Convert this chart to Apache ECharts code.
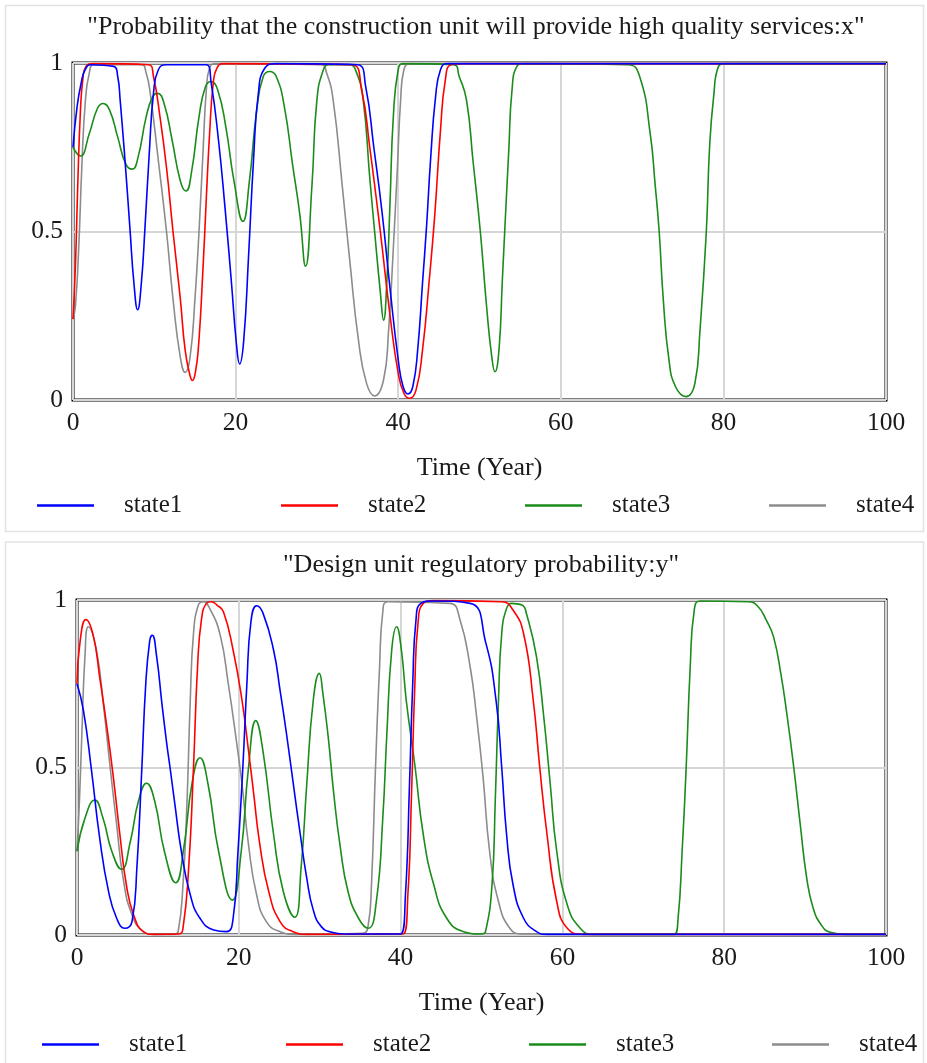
<!DOCTYPE html>
<html>
<head>
<meta charset="utf-8">
<script src="https://cdn.jsdelivr.net/npm/echarts@6/dist/echarts.min.js"></script>
<style>
html,body{margin:0;padding:0;background:#fff;}
#chart{width:927px;height:1063px;}
</style>
</head>
<body>
<div id="chart"></div>
<script>
// ---------- data ----------
const stateNames = ['state1', 'state2', 'state3', 'state4'];
const titleX = '"Probability that the construction unit will provide high quality services:x"';
const titleY = '"Design unit regulatory probability:y"';
const xAxisTitle = 'Time (Year)';
const xTicks = [0, 20, 40, 60, 80, 100];
const yTicks = [0, 0.5, 1];

// Panel 1: x (construction unit high quality probability)
const xState1 = [[0,0.75],[0.5,0.87],[1,0.94],[1.5,0.98],[2.2,0.995],[5,0.99],[5.5,0.96],[5.8,0.89],[6.4,0.71],[7.0,0.51],[7.5,0.345],[7.95,0.268],[8.4,0.345],[8.85,0.51],[9.4,0.74],[9.9,0.91],[10.5,0.98],[11.5,0.995],[16.4,0.995],[17.0,0.94],[17.9,0.77],[18.7,0.57],[19.5,0.345],[20.1,0.167],[20.5,0.107],[21.0,0.177],[21.6,0.43],[22.2,0.71],[22.8,0.91],[23.6,0.985],[25,0.998],[35,0.995],[36,0.93],[37,0.75],[38,0.56],[39,0.33],[40,0.12],[40.6,0.04],[41.2,0.018],[41.8,0.04],[42.4,0.15],[43,0.35],[43.5,0.52],[44,0.72],[44.6,0.9],[45.2,0.98],[46,0.998],[100,0.998]];
const xState2 = [[0,0.24],[0.3,0.4],[0.6,0.65],[0.9,0.85],[1.2,0.95],[1.6,0.99],[2.5,0.998],[9.3,0.995],[9.9,0.96],[10.7,0.84],[11.5,0.69],[12.3,0.5],[13.2,0.3],[13.8,0.147],[14.4,0.072],[14.7,0.058],[15.0,0.075],[15.4,0.147],[16.0,0.395],[16.4,0.6],[16.8,0.79],[17.25,0.94],[17.7,0.985],[18.5,0.998],[34.3,0.995],[35.5,0.92],[36.5,0.75],[37.8,0.5],[39,0.25],[40,0.08],[40.7,0.02],[41.4,0.005],[42.2,0.03],[43,0.15],[43.8,0.35],[44.5,0.55],[45.2,0.8],[45.8,0.95],[46.5,0.995],[48,0.998],[100,0.998]];
const xState3 = [[0,0.75],[0.9,0.724],[2,0.79],[3,0.865],[3.7,0.88],[4.5,0.86],[5.5,0.78],[6.5,0.70],[7.3,0.685],[8,0.72],[9,0.84],[9.8,0.9],[10.4,0.91],[11.2,0.88],[12.2,0.77],[13.2,0.65],[13.9,0.62],[14.6,0.68],[15.5,0.84],[16.3,0.93],[17.0,0.945],[17.8,0.92],[18.8,0.81],[19.8,0.65],[20.9,0.53],[21.7,0.65],[22.6,0.86],[23.4,0.96],[24.2,0.975],[25,0.96],[26,0.87],[27,0.7],[27.9,0.55],[28.6,0.397],[29.4,0.64],[30.0,0.89],[30.8,0.98],[31.5,0.995],[34,0.995],[34.9,0.97],[35.7,0.89],[36.5,0.66],[37.1,0.5],[37.8,0.32],[38.2,0.237],[38.6,0.35],[39.0,0.59],[39.4,0.84],[40.0,0.98],[40.6,0.998],[46.8,0.995],[47.5,0.96],[48.4,0.89],[49.2,0.71],[50.1,0.5],[50.9,0.27],[51.5,0.13],[51.9,0.084],[52.4,0.15],[52.8,0.35],[53.1,0.5],[53.6,0.74],[54.0,0.92],[54.6,0.99],[55.5,0.998],[68.3,0.995],[69.7,0.96],[71.0,0.79],[71.6,0.64],[72.1,0.5],[72.6,0.3],[73.3,0.12],[74.1,0.04],[75.4,0.01],[76.5,0.05],[77.1,0.2],[77.9,0.5],[78.3,0.75],[78.8,0.9],[79.4,0.99],[80.2,0.998],[100,0.998]];
const xState4 = [[0,0.24],[0.3,0.28],[0.7,0.45],[1.1,0.7],[1.5,0.88],[2,0.97],[2.6,0.995],[8.4,0.995],[9.0,0.97],[9.5,0.91],[10.5,0.71],[11.5,0.5],[12.3,0.3],[13.2,0.127],[13.8,0.082],[14.4,0.127],[15.0,0.3],[15.5,0.5],[16.0,0.74],[16.4,0.92],[16.8,0.985],[17.5,0.998],[30.5,0.995],[31.2,0.97],[32.0,0.89],[33.1,0.64],[34.1,0.4],[35.1,0.18],[36.1,0.05],[37.1,0.012],[38.2,0.06],[38.8,0.2],[39.4,0.45],[39.9,0.69],[40.3,0.89],[40.7,0.98],[41.5,0.998],[100,0.998]];

// Panel 2: y (design unit regulatory probability)
const yState1 = [[0,0.75],[0.8,0.67],[1.8,0.49],[2.8,0.29],[3.9,0.13],[4.9,0.05],[5.9,0.02],[6.8,0.04],[7.4,0.2],[8.0,0.49],[8.5,0.75],[9.0,0.88],[9.3,0.895],[9.85,0.83],[10.5,0.69],[11.1,0.57],[11.5,0.5],[12.1,0.39],[12.9,0.25],[14.0,0.12],[15.2,0.05],[16.9,0.015],[18.5,0.01],[19.3,0.05],[19.9,0.25],[20.5,0.5],[21.0,0.75],[21.5,0.935],[22.2,0.983],[23,0.96],[24.3,0.85],[25.1,0.73],[25.9,0.6],[26.8,0.44],[27.6,0.3],[28.4,0.17],[29.2,0.075],[30.2,0.025],[31.5,0.008],[33,0.003],[40,0.003],[40.6,0.12],[41.1,0.45],[41.5,0.75],[41.9,0.94],[42.5,0.99],[44,0.997],[48.6,0.99],[50.5,0.875],[51.8,0.7],[52.5,0.5],[53.1,0.3],[53.9,0.15],[55.2,0.05],[56.8,0.01],[58,0.002],[100,0.002]];
const yState2 = [[0,0.75],[0.4,0.88],[1.1,0.942],[2.0,0.895],[2.8,0.77],[3.7,0.62],[4.5,0.47],[5.3,0.3],[6.1,0.15],[7.0,0.06],[8.2,0.01],[9.5,0.002],[12.6,0.003],[13.1,0.02],[13.8,0.2],[14.4,0.5],[14.9,0.8],[15.4,0.945],[16.0,0.99],[16.6,0.995],[17.3,0.985],[18.1,0.965],[19.3,0.85],[20.4,0.7],[21.2,0.55],[21.8,0.43],[22.6,0.27],[23.7,0.13],[25.1,0.04],[26.7,0.01],[28.5,0.002],[40.3,0.003],[40.9,0.12],[41.35,0.42],[41.75,0.74],[42.15,0.93],[42.8,0.99],[44,0.998],[52.5,0.995],[53.9,0.97],[55.2,0.9],[56.4,0.70],[57.2,0.5],[58.1,0.3],[59.3,0.1],[60.6,0.02],[62.6,0.002],[100,0.002]];
const yState3 = [[0,0.25],[1,0.35],[2.2,0.403],[3.2,0.35],[4.3,0.25],[5.5,0.196],[6.6,0.28],[7.6,0.40],[8.6,0.453],[9.6,0.40],[10.8,0.25],[12.2,0.156],[13.2,0.26],[14.2,0.45],[15.2,0.529],[16.2,0.45],[17.5,0.25],[19.2,0.104],[20.3,0.25],[21.2,0.5],[22.1,0.64],[23,0.547],[24.3,0.3],[25.5,0.13],[26.9,0.053],[27.7,0.2],[28.4,0.45],[29.2,0.70],[29.95,0.781],[30.4,0.72],[31.1,0.58],[31.7,0.43],[32.5,0.27],[33.5,0.13],[34.8,0.05],[36.0,0.02],[37.0,0.1],[37.8,0.35],[38.3,0.6],[38.9,0.85],[39.5,0.92],[40.1,0.85],[40.7,0.70],[41.8,0.5],[42.8,0.30],[44.1,0.15],[45.7,0.05],[47.8,0.01],[50,0.003],[50.5,0.01],[51.3,0.15],[51.7,0.4],[52.1,0.7],[52.5,0.9],[53.1,0.975],[53.7,0.99],[55,0.985],[55.6,0.955],[56.8,0.83],[57.7,0.65],[58.5,0.45],[59.3,0.25],[60.6,0.09],[62.2,0.02],[63.8,0.002],[73.8,0.002],[74.3,0.05],[74.8,0.25],[75.3,0.5],[75.8,0.8],[76.3,0.97],[77,0.997],[83,0.995],[84.2,0.98],[85.2,0.94],[86.1,0.89],[87,0.78],[87.8,0.65],[88.6,0.5],[89.4,0.33],[90.2,0.17],[91,0.08],[92,0.03],[93.1,0.008],[95,0.002],[100,0.002]];
const yState4 = [[0,0.25],[0.3,0.4],[0.6,0.6],[1.0,0.84],[1.4,0.92],[2.4,0.85],[3.3,0.68],[4.1,0.5],[4.9,0.33],[5.7,0.17],[6.8,0.06],[8.2,0.01],[9.5,0.002],[12.0,0.002],[12.5,0.01],[13.1,0.15],[13.6,0.4],[14.0,0.7],[14.4,0.9],[15.0,0.985],[15.6,0.995],[16.4,0.975],[17.7,0.895],[18.7,0.75],[19.7,0.58],[20.4,0.45],[21.2,0.27],[22.2,0.12],[23.4,0.04],[25.1,0.01],[27,0.002],[35.3,0.005],[36.0,0.03],[36.4,0.15],[36.9,0.5],[37.4,0.8],[37.8,0.965],[38.4,0.995],[46.1,0.99],[47.3,0.945],[48.6,0.8],[49.4,0.65],[50.2,0.47],[51.0,0.25],[52.1,0.1],[53.5,0.02],[55,0.003],[100,0.002]];

// ---------- styles ----------
const FONT = 'Liberation Serif';
const FS = 26;
const FS_TICK = 25.5;
const FS_LEG = 25;
const TXT = '#1a1a1a';
const colors = ['#0000ff', '#ff0000', '#1a8c1a', '#8c8c8c'];

const chart = echarts.init(document.getElementById('chart'), null, {renderer: 'canvas'});

function xAxisCfg(gridIndex) {
  return {
    type: 'value', gridIndex,
    min: xTicks[0], max: xTicks[xTicks.length - 1], interval: xTicks[1] - xTicks[0],
    name: xAxisTitle, nameLocation: 'middle', nameGap: 55,
    nameTextStyle: {fontFamily: FONT, fontSize: FS, color: TXT},
    axisLine: {show: false}, axisTick: {show: false},
    axisLabel: {fontFamily: FONT, fontSize: FS_TICK, color: TXT, margin: 10},
    splitLine: {show: true, lineStyle: {color: '#d6d6d6', width: 2}}
  };
}
function yAxisCfg(gridIndex) {
  return {
    type: 'value', gridIndex,
    min: yTicks[0], max: yTicks[yTicks.length - 1], interval: yTicks[1] - yTicks[0],
    axisLine: {show: false}, axisTick: {show: false},
    axisLabel: {fontFamily: FONT, fontSize: FS_TICK, color: TXT, margin: 10},
    splitLine: {show: true, lineStyle: {color: '#d6d6d6', width: 2}}
  };
}

const panelData = [[xState1, xState2, xState3, xState4], [yState1, yState2, yState3, yState4]];
const series = [];
panelData.forEach((arrs, p) => {
  arrs.forEach((d, i) => {
    series.push({
      type: 'line', name: stateNames[i], xAxisIndex: p, yAxisIndex: p,
      data: d, symbol: 'none', smooth: 0.5,
      lineStyle: {width: 1.6, color: colors[i]}, itemStyle: {color: colors[i]},
      z: 10 - i, silent: true
    });
  });
});

const legendPos = [
  [{x: 37, y: 504}, {x: 281, y: 504}, {x: 525, y: 504}, {x: 769, y: 504}],
  [{x: 42, y: 1043}, {x: 286, y: 1043}, {x: 529, y: 1043}, {x: 772, y: 1043}]
];
const legends = [];
legendPos.forEach(row => row.forEach((pos, i) => {
  legends.push({
    left: pos.x, top: pos.y - 11, padding: 0,
    data: [stateNames[i]], selectedMode: false,
    icon: 'rect', itemWidth: 57, itemHeight: 2.5,
    textStyle: {fontFamily: FONT, fontSize: FS_LEG, color: TXT, padding: [0, 0, 0, 25]}
  });
}));

const option = {
  animation: false,
  backgroundColor: '#fff',
  graphic: [
    {type: 'rect', silent: true, z: -10, shape: {x: 5.5, y: 5.5, width: 918, height: 526}, style: {fill: 'none', stroke: '#e2e2e2', lineWidth: 1.5}},
    {type: 'rect', silent: true, z: -10, shape: {x: 5.5, y: 542, width: 918, height: 530}, style: {fill: 'none', stroke: '#e2e2e2', lineWidth: 1.5}},
    {type: 'text', silent: true, x: 476, y: 27, style: {text: titleX, font: FS + 'px "' + FONT + '"', fill: TXT, textAlign: 'center', textVerticalAlign: 'middle'}},
    {type: 'text', silent: true, x: 481, y: 565, style: {text: titleY, font: FS + 'px "' + FONT + '"', fill: TXT, textAlign: 'center', textVerticalAlign: 'middle'}}
  ],
  grid: [
    {left: 73, top: 63, width: 813, height: 337, show: true, borderColor: '#000', borderWidth: 3, backgroundColor: 'transparent'},
    {left: 77, top: 600, width: 809, height: 335, show: true, borderColor: '#000', borderWidth: 3, backgroundColor: 'transparent'}
  ],
  xAxis: [xAxisCfg(0), xAxisCfg(1)],
  yAxis: [yAxisCfg(0), yAxisCfg(1)],
  legend: legends,
  series: series
};
chart.setOption(option);
</script>
</body>
</html>
